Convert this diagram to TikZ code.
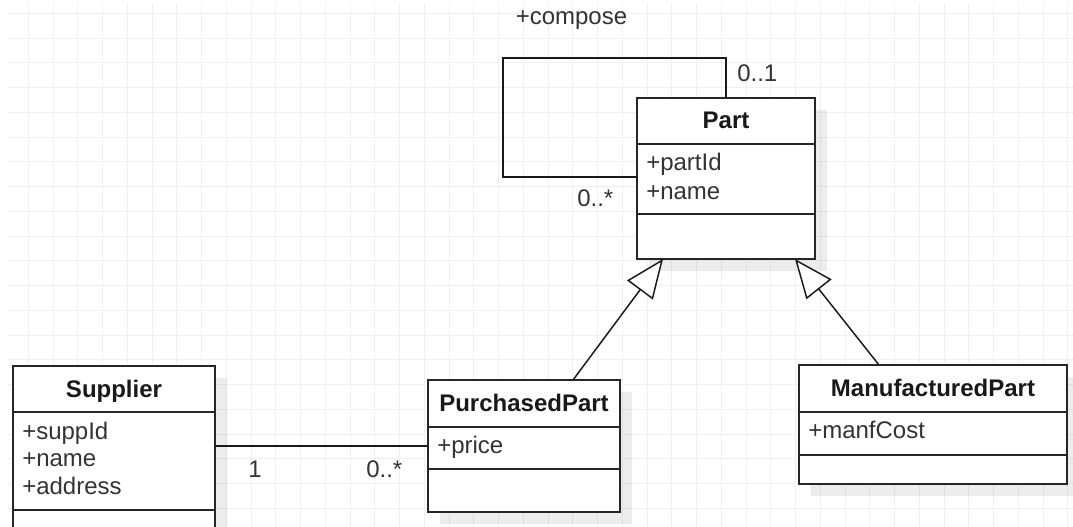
\documentclass[tikz,border=0pt]{standalone}
\usepackage{fontspec}
\setmainfont{Liberation Sans}
\usetikzlibrary{arrows.meta,calc,shadows}
\begin{document}
\begin{tikzpicture}[x=0.75pt,y=-0.75pt,
  every node/.style={font=\fontsize{18pt}{21.6pt}\selectfont, text=black!80, inner sep=0pt},
  gridline/.style={draw=black!6, line width=0.75pt},
  classbox/.style={draw=black!85, line width=1.4pt, fill=white, anchor=north west, outer sep=0pt,
    drop shadow={shadow xshift=9pt, shadow yshift=-9pt, fill=black, opacity=0.07}},
  sep/.style={draw=black!85, line width=1.4pt},
  conn/.style={draw=black!90, line width=1.1pt},
  gen/.style={conn, -{Triangle[open, length=29pt, width=24pt, fill=white]}},
  attr/.style={anchor=base west},
  title/.style={anchor=base, font=\fontsize{18pt}{21.6pt}\selectfont\bfseries, text=black!90},
  lbl/.style={anchor=base west}]
\useasboundingbox (0,0) rectangle (1073,527);
\clip (0,0) rectangle (1073,527);
\fill[white] (0,0) rectangle (1073,527);
% grid
\foreach \i in {0,...,42} \draw[gridline] ({28.3+24.75*\i},3) -- ({28.3+24.75*\i},527);
\foreach \j in {0,...,20} \draw[gridline] (8,{13.3+24.75*\j}) -- (1073,{13.3+24.75*\j});

% Part
\node[classbox, minimum width=133.5pt, minimum height=120.75pt] (part) at (637,98) {};
\draw[sep] ($(part.north west)+(0,46)$) -- ($(part.north east)+(0,46)$);
\draw[sep] ($(part.north west)+(0,116)$) -- ($(part.north east)+(0,116)$);
\node[title] (partT) at ($(part.north)+(0,31)$) {Part};
\node[attr] (partA1) at ($(part.north west)+(9,73)$) {+partId};
\node[attr] (partA2) at ($(part.north west)+(9,101.5)$) {+name};

% Supplier
\node[classbox, minimum width=151.5pt, minimum height=145.5pt] (sup) at (13,366) {};
\draw[sep] ($(sup.north west)+(0,46)$) -- ($(sup.north east)+(0,46)$);
\draw[sep] ($(sup.north west)+(0,144)$) -- ($(sup.north east)+(0,144)$);
\node[title] (supT) at ($(sup.north)+(0,31)$) {Supplier};
\node[attr] (supA1) at ($(sup.north west)+(9,73)$) {+suppId};
\node[attr] (supA2) at ($(sup.north west)+(9,100.5)$) {+name};
\node[attr] (supA3) at ($(sup.north west)+(9,128)$) {+address};

% PurchasedPart
\node[classbox, minimum width=144pt, minimum height=99pt] (pp) at (428,380) {};
\draw[sep] ($(pp.north west)+(0,47)$) -- ($(pp.north east)+(0,47)$);
\draw[sep] ($(pp.north west)+(0,89)$) -- ($(pp.north east)+(0,89)$);
\node[title] (ppT) at ($(pp.north)+(0,31.5)$) {PurchasedPart};
\node[attr] (ppA1) at ($(pp.north west)+(9,73)$) {+price};

% ManufacturedPart
\node[classbox, minimum width=201pt, minimum height=89.25pt] (mp) at (799,365) {};
\draw[sep] ($(mp.north west)+(0,47)$) -- ($(mp.north east)+(0,47)$);
\draw[sep] ($(mp.north west)+(0,90)$) -- ($(mp.north east)+(0,90)$);
\node[title] (mpT) at ($(mp.north)+(0,31.5)$) {ManufacturedPart};
\node[attr] (mpA1) at ($(mp.north west)+(9,73)$) {+manfCost};

% self association
\draw[conn] (part.north) |- ($(part.north west)+(-134,-40)$) |- ($(part.north west)+(0,79)$);
\node[lbl] (compose) at (515.5,24.5) {+compose};
\node[lbl] (m01) at (737,82) {0..1};
\node[lbl] (m0s1) at (577,207) {0..*};

% association Supplier - PurchasedPart
\draw[conn] ($(sup.north east)+(0,80)$) -- ($(pp.north west)+(0,66)$);
\node[lbl] (m1) at (248,477) {1};
\node[lbl] (m0s2) at (366,477) {0..*};

% generalizations
\draw[gen] ($(pp.north west)+(145,0)$) -- ($(part.south west)+(26,0)$);
\draw[gen] ($(mp.north west)+(80,0)$) -- ($(part.south east)+(-20,0)$);
\end{tikzpicture}
\end{document}
